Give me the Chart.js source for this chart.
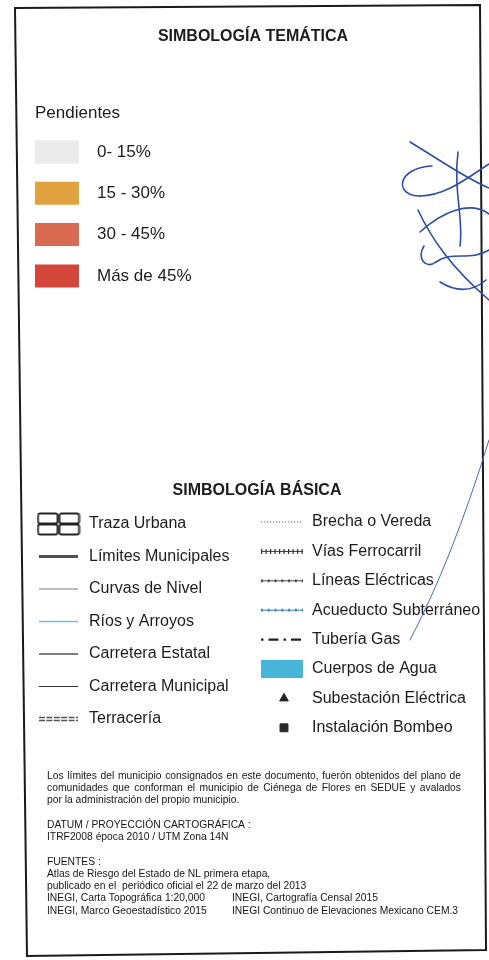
<!DOCTYPE html>
<html>
<head>
<meta charset="utf-8">
<script src="https://cdn.jsdelivr.net/npm/chart.js@4.4.0/dist/chart.umd.min.js"></script>
<style>
  html, body { margin: 0; padding: 0; background: #fff; }
  canvas { display: block; }
</style>
</head>
<body>
<canvas id="legend" width="489" height="960"></canvas>
<script>
// Simbología temática
const themeTitle = 'SIMBOLOGÍA TEMÁTICA';
const slopeTitle = 'Pendientes';
const slopeClasses = ['0- 15%', '15 - 30%', '30 - 45%', 'Más de 45%'];
const slopeColors = ['#ebebeb', '#e2a23f', '#d76a50', '#d3473a'];

// Simbología básica
const basicTitle = 'SIMBOLOGÍA BÁSICA';
const basicLeft = ['Traza Urbana', 'Límites Municipales', 'Curvas de Nivel', 'Ríos y Arroyos',
                   'Carretera Estatal', 'Carretera Municipal', 'Terracería'];
const basicRight = ['Brecha o Vereda', 'Vías Ferrocarril', 'Líneas Eléctricas', 'Acueducto Subterráneo',
                    'Tubería Gas', 'Cuerpos de Agua', 'Subestación Eléctrica', 'Instalación Bombeo'];

// notas al pie
const notes = [
  'Los límites del municipio consignados en este documento, fuerón obtenidos del plano de',
  'comunidades que conforman el municipio de Ciénega de Flores en SEDUE y avalados',
  'por la administración del propio municipio.',
  '',
  'DATUM / PROYECCIÓN CARTOGRÁFICA :',
  'ITRF2008 época 2010 / UTM Zona 14N',
  '',
  'FUENTES :',
  'Atlas de Riesgo del Estado de NL primera etapa,',
  'publicado en el  periódico oficial el 22 de marzo del 2013'
];
const sourcesLeft = ['INEGI, Carta Topográfica 1:20,000', 'INEGI, Marco Geoestadístico 2015'];
const sourcesRight = ['INEGI, Cartografía Censal 2015', 'INEGI Continuo de Elevaciones Mexicano CEM.3'];

const W = 489, H = 960;
const FONT = "'Liberation Sans', Arial, sans-serif";

// columnas del cuadro (posiciones en pixeles de la hoja)
const layout = {
  theme: { top: 152, step: 41.3, x0: 35, x1: 79, text: 97 },
  left:  { top: 524, step: 32.5, x0: 39, x1: 78, text: 89 },
  right: { top: 522, step: 29.4, x0: 261, x1: 303, text: 312 }
};

// estilo de cada símbolo
const symbolStyle = {
  'Traza Urbana':          { kind: 'icon' },
  'Límites Municipales':   { color: '#505050', width: 3 },
  'Curvas de Nivel':       { color: '#7a7a7a', width: 1 },
  'Ríos y Arroyos':        { color: '#6fc3dc', width: 1.6 },
  'Carretera Estatal':     { color: '#555555', width: 1.6 },
  'Carretera Municipal':   { color: '#333333', width: 1 },
  'Terracería':            { kind: 'double', color: '#555555', dash: [6, 1.4] },
  'Brecha o Vereda':       { color: '#555555', width: 1, dash: [1.2, 1.8] },
  'Vías Ferrocarril':      { kind: 'ticks', color: '#333333' },
  'Líneas Eléctricas':     { kind: 'dotted', color: '#444444' },
  'Acueducto Subterráneo': { kind: 'dotted', color: '#2f7fc1' },
  'Tubería Gas':           { color: '#222222', width: 2.2, dash: [2.5, 5, 10, 5] },
  'Cuerpos de Agua':       { color: '#47b5d8', width: 18 },
  'Subestación Eléctrica': { kind: 'point', style: 'triangle', color: '#222222', radius: 5 },
  'Instalación Bombeo':    { kind: 'point', style: 'rect', color: '#2a2a2a', radius: 5.6 }
};

function rowAxis(c) {
  const min = -c.top / c.step;
  return { type: 'linear', axis: 'y', display: false, reverse: true, min: min, max: min + H / c.step };
}

function urbanIcon() {
  const c = document.createElement('canvas');
  c.width = 44; c.height = 24;
  const g = c.getContext('2d');
  g.strokeStyle = '#222';
  g.lineWidth = 1.8;
  [[1.5, 1.5], [23, 1.5], [1.5, 12.5], [23, 12.5]].forEach(function (p) {
    g.beginPath();
    g.roundRect(p[0], p[1], 19.5, 10, 2);
    g.stroke();
  });
  return c;
}

function seg(col, axisId, row, color, width, dash, order) {
  return {
    data: [{ x: col.x0, y: row }, { x: col.x1, y: row }],
    yAxisID: axisId,
    showLine: true,
    borderColor: color,
    borderWidth: width,
    borderDash: dash || [],
    borderCapStyle: 'butt',
    pointRadius: 0,
    pointHoverRadius: 0,
    order: order || 0
  };
}

function symbolDatasets(label, row, col, axisId) {
  const s = symbolStyle[label];
  const mid = (col.x0 + col.x1) / 2;
  if (s.kind === 'icon') {
    return [{ data: [{ x: mid, y: row }], yAxisID: axisId, showLine: false,
              pointStyle: urbanIcon(), pointRadius: 12 }];
  }
  if (s.kind === 'point') {
    return [{ data: [{ x: mid + 2, y: row }], yAxisID: axisId, showLine: false,
              pointStyle: s.style, pointRadius: s.radius, backgroundColor: s.color,
              borderColor: s.color, borderWidth: 1 }];
  }
  if (s.kind === 'double') {
    return [seg(col, axisId, row, s.color, 4.6, s.dash, 2),
            seg(col, axisId, row, '#ffffff', 1.4, [], 1)];
  }
  if (s.kind === 'ticks') {
    return [seg(col, axisId, row, s.color, 1, [], 2),
            seg(col, axisId, row, s.color, 5, [1.2, 3.3], 1)];
  }
  if (s.kind === 'dotted') {
    return [seg(col, axisId, row, s.color, 1, [], 2),
            seg(col, axisId, row, s.color, 2.8, [1.8, 5], 1)];
  }
  return [seg(col, axisId, row, s.color, s.width, s.dash)];
}

const datasets = [];
slopeClasses.forEach(function (lab, i) {
  datasets.push(seg(layout.theme, 'yT', i, slopeColors[i], 23));
});
basicLeft.forEach(function (lab, i) {
  symbolDatasets(lab, i, layout.left, 'yL').forEach(function (d) { datasets.push(d); });
});
basicRight.forEach(function (lab, i) {
  symbolDatasets(lab, i, layout.right, 'yR').forEach(function (d) { datasets.push(d); });
});

function justify(ctx, text, x, y, width) {
  const words = text.split(/\s+/);
  const total = words.reduce(function (s, w) { return s + ctx.measureText(w).width; }, 0);
  const gap = (width - total) / (words.length - 1);
  let cx = x;
  words.forEach(function (w) {
    ctx.fillText(w, cx, y);
    cx += ctx.measureText(w).width + gap;
  });
}

const sheetPlugin = {
  id: 'sheet',
  beforeDraw(chart) {
    const ctx = chart.ctx;
    ctx.save();
    ctx.fillStyle = '#ffffff';
    ctx.fillRect(0, 0, W, H);
    // marco (el escaneo está un poco girado)
    ctx.strokeStyle = '#1a1a1a';
    ctx.lineWidth = 2;
    ctx.beginPath();
    ctx.moveTo(15, 8);
    ctx.lineTo(480, 5);
    ctx.lineTo(486, 950);
    ctx.lineTo(27, 956);
    ctx.closePath();
    ctx.stroke();
    ctx.restore();
  },
  afterDatasetsDraw(chart) {
    const ctx = chart.ctx;
    const s = chart.scales;
    ctx.save();
    ctx.fillStyle = '#1c1c1c';
    ctx.textBaseline = 'middle';

    ctx.textAlign = 'center';
    ctx.font = 'bold 16px ' + FONT;
    ctx.fillText(themeTitle, 253, 37);
    ctx.fillText(basicTitle, 257, 491);

    ctx.textAlign = 'left';
    ctx.font = '17px ' + FONT;
    ctx.fillText(slopeTitle, 35, 113);
    slopeClasses.forEach(function (lab, i) {
      ctx.fillText(lab, layout.theme.text, s.yT.getPixelForValue(i));
    });

    ctx.font = '16px ' + FONT;
    basicLeft.forEach(function (lab, i) {
      ctx.fillText(lab, layout.left.text, s.yL.getPixelForValue(i));
    });
    basicRight.forEach(function (lab, i) {
      ctx.fillText(lab, layout.right.text, s.yR.getPixelForValue(i));
    });

    // notas
    ctx.font = '10.3px ' + FONT;
    ctx.fillStyle = '#161616';
    const lh = 12.25;
    let y = 776;
    notes.forEach(function (line, i) {
      if (i < 2) justify(ctx, line, 47, y, 414);
      else if (line) ctx.fillText(line, 47, y);
      y += lh;
    });
    sourcesLeft.forEach(function (line, i) {
      ctx.fillText(line, 47, y);
      ctx.fillText(sourcesRight[i], 232, y);
      y += lh;
    });
    ctx.restore();
  },
  afterDraw(chart) {
    // firma en tinta azul
    const ctx = chart.ctx;
    ctx.save();
    ctx.strokeStyle = '#2d4ea6';
    ctx.lineWidth = 1.6;
    ctx.lineCap = 'round';
    ctx.lineJoin = 'round';
    const strokes = [
      [410, 142, 440, 160, 465, 178, 489, 188],
      [432, 166, 396, 168, 394, 196, 420, 196],
      [420, 196, 446, 196, 470, 176, 489, 164],
      [458, 152, 453, 190, 464, 220, 460, 246],
      [418, 210, 432, 240, 452, 268, 489, 300],
      [424, 246, 416, 258, 426, 270, 436, 262],
      [420, 232, 442, 212, 470, 200, 489, 214],
      [436, 262, 452, 250, 470, 262, 489, 250],
      [440, 282, 456, 292, 472, 292, 486, 280]
    ];
    strokes.forEach(function (p) {
      ctx.beginPath();
      ctx.moveTo(p[0], p[1]);
      ctx.bezierCurveTo(p[2], p[3], p[4], p[5], p[6], p[7]);
      ctx.stroke();
    });
    ctx.lineWidth = 1;
    ctx.strokeStyle = '#4a6cb3';
    ctx.beginPath();
    ctx.moveTo(489, 440);
    ctx.quadraticCurveTo(452, 560, 410, 640);
    ctx.stroke();
    ctx.restore();
  }
};

new Chart(document.getElementById('legend'), {
  type: 'scatter',
  data: { datasets: datasets },
  options: {
    responsive: false,
    animation: false,
    events: [],
    layout: { padding: 0, autoPadding: false },
    plugins: {
      legend: { display: false },
      tooltip: { enabled: false },
      title: { display: false }
    },
    scales: {
      x: { type: 'linear', display: false, min: 0, max: W },
      yT: rowAxis(layout.theme),
      yL: rowAxis(layout.left),
      yR: rowAxis(layout.right)
    }
  },
  plugins: [sheetPlugin]
});
</script>
</body>
</html>
